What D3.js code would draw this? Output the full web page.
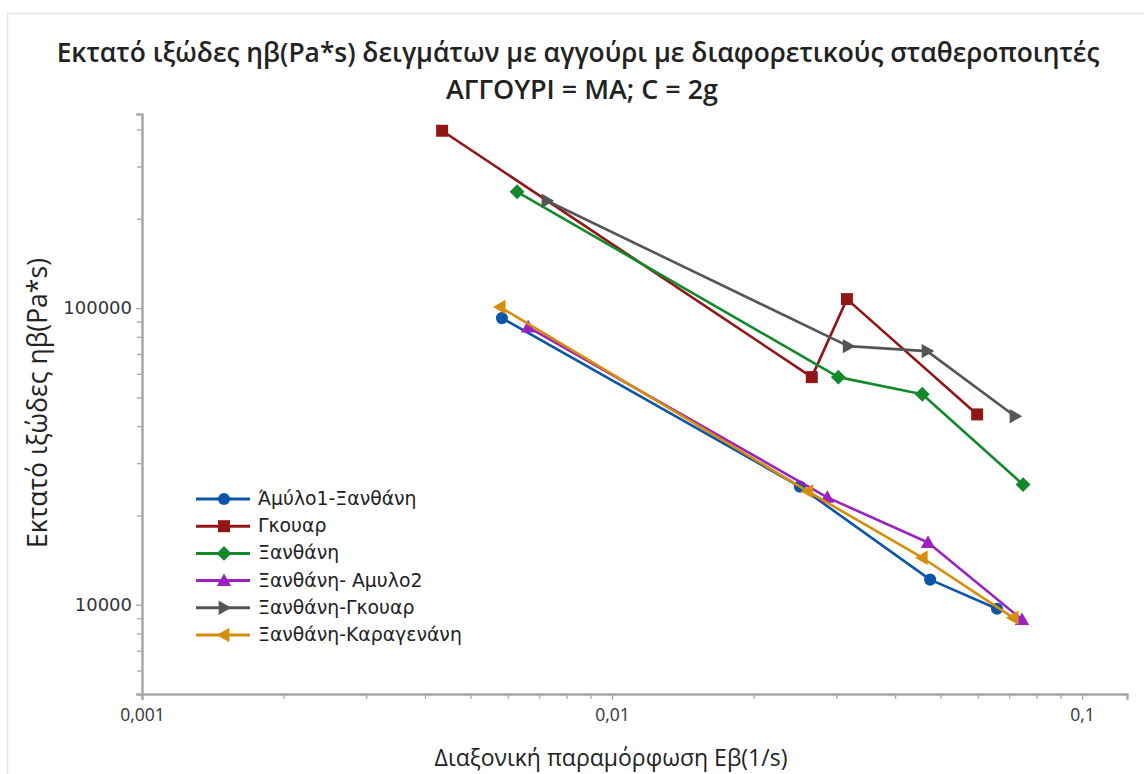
<!DOCTYPE html>
<html>
<head>
<meta charset="utf-8">
<script src="https://cdn.jsdelivr.net/npm/d3@7"></script>
<style>
  html, body { margin: 0; padding: 0; background: #fff; }
  svg { display: block; }
</style>
</head>
<body>
<svg id="chart" width="1144" height="774"></svg>
<script>
// ---- Data ----
const seriesNames = ["Άμύλο1-Ξανθάνη", "Γκουαρ", "Ξανθάνη", "Ξανθάνη- Αμυλο2", "Ξανθάνη-Γκουαρ", "Ξανθάνη-Καραγενάνη"];
const amylo1X   = [0.00583, 0.0251, 0.0475, 0.0659];
const amylo1Y   = [92500, 25000, 12150, 9690];
const gkouarX   = [0.00435, 0.0266, 0.0316, 0.0598];
const gkouarY   = [396000, 58500, 107200, 43800];
const xanthX    = [0.00628, 0.0303, 0.0457, 0.0749];
const xanthY    = [246600, 58500, 51200, 25400];
const xamylo2X  = [0.00663, 0.0287, 0.0470, 0.0745];
const xamylo2Y  = [86300, 23000, 16200, 8900];
const xgkouarX  = [0.00727, 0.0318, 0.0468, 0.0720];
const xgkouarY  = [230000, 74400, 71600, 43200];
const xkaragX   = [0.00578, 0.0261, 0.0457, 0.0713];
const xkaragY   = [100800, 24100, 14400, 9040];
const xTickValues = [0.001, 0.01, 0.1];
const xTickLabels = ["0,001", "0,01", "0,1"];
const yTickValues = [10000, 100000];
const yTickLabels = ["10000", "100000"];
const titleLine1 = "Εκτατό ιξώδες ηβ(Pa*s) δειγμάτων με αγγούρι με διαφορετικούς σταθεροποιητές";
const titleLine2 = "ΑΓΓΟΥΡΙ = ΜΑ; C = 2g";
const xLabel = "Διαξονική παραμόρφωση Εβ(1/s)";
const yLabel = "Εκτατό ιξώδες ηβ(Pa*s)";

const colors = ["#0a56a8", "#921616", "#12892a", "#9b22c0", "#555555", "#d68d0a"];
const symbols = ["circle", "square", "diamond", "triUp", "triRight", "triLeft"];

const seriesX = [amylo1X, gkouarX, xanthX, xamylo2X, xgkouarX, xkaragX];
const seriesY = [amylo1Y, gkouarY, xanthY, xamylo2Y, xgkouarY, xkaragY];
const series = seriesNames.map((name, i) => ({
  name, color: colors[i], symbol: symbols[i],
  points: seriesX[i].map((x, j) => ({x, y: seriesY[i][j]}))
}));

// ---- Layout ----
const svg = d3.select("#chart");
const pLeft = 142, pRight = 1127, pTop = 114, pBottom = 694;
const xScale = d3.scaleLog().domain([0.001, 0.1246]).range([pLeft, pRight]);
const yScale = d3.scaleLog().domain([5000, 451000]).range([pBottom, pTop]);

// outer frame
svg.append("rect").attr("x", 7.5).attr("y", 13.5).attr("width", 1150).attr("height", 800)
  .attr("fill", "none").attr("stroke", "#e3e3e3").attr("stroke-width", 1.5);

function fit(sel, target) {
  const w = sel.node().getComputedTextLength();
  const fs = parseFloat(sel.attr("font-size"));
  const nfs = fs * target / w;
  sel.attr("font-size", nfs.toFixed(2));
  return nfs;
}

// ---- Axes ----
const axisColor = "#a8a8a8";
const xMinor = [];
for (let d = 0.001; d < 0.2; d *= 10) for (let k = 2; k <= 9; k++) { const v = +(d * k).toPrecision(3); if (v <= 0.1246) xMinor.push(v); }
const yMinor = [];
for (let d = 1000; d < 1e6; d *= 10) for (let k = 2; k <= 9; k++) { const v = d * k; if (v >= 5000 && v <= 451000) yMinor.push(v); }

const xAxisMinor = d3.axisBottom(xScale).tickValues(xMinor).tickSize(5).tickFormat("");
const xAxisMajor = d3.axisBottom(xScale).tickValues(xTickValues).tickSize(6).tickPadding(9)
  .tickFormat((d, i) => xTickLabels[i]);
const yAxisMinor = d3.axisLeft(yScale).tickValues(yMinor).tickSize(5).tickFormat("");
const yAxisMajor = d3.axisLeft(yScale).tickValues(yTickValues).tickSize(6).tickPadding(4)
  .tickFormat((d, i) => yTickLabels[i]);

function styleAxis(g) {
  g.select(".domain").attr("stroke", axisColor).attr("stroke-width", 2);
  g.selectAll(".tick line").attr("stroke", axisColor).attr("stroke-width", 1.3);
}
svg.append("g").attr("transform", `translate(0,${pBottom})`).call(xAxisMinor).call(styleAxis);
const gx = svg.append("g").attr("transform", `translate(0,${pBottom})`).call(xAxisMajor).call(styleAxis);
gx.selectAll(".tick text").attr("font-family", "'Open Sans', sans-serif").attr("font-size", 17.5).attr("fill", "#333");
svg.append("g").attr("transform", `translate(${pLeft},0)`).call(yAxisMinor).call(styleAxis);
const gy = svg.append("g").attr("transform", `translate(${pLeft},0)`).call(yAxisMajor).call(styleAxis);
gy.selectAll(".tick text").attr("font-family", "'DejaVu Sans', sans-serif").attr("font-size", 18).attr("fill", "#333");

// ---- Titles ----
const t1 = svg.append("text").attr("x", 578).attr("y", 62).attr("text-anchor", "middle")
  .attr("font-family", "'Open Sans', sans-serif").attr("font-weight", 600).attr("font-size", 20)
  .attr("fill", "#222").text(titleLine1);
fit(t1, 1043);
const t2 = svg.append("text").attr("x", 582).attr("y", 99).attr("text-anchor", "middle")
  .attr("font-family", "'Open Sans', sans-serif").attr("font-weight", 600).attr("font-size", 20)
  .attr("fill", "#222").text(titleLine2);
fit(t2, 272);
const xl = svg.append("text").attr("x", 611).attr("y", 766).attr("text-anchor", "middle")
  .attr("font-family", "'Open Sans', sans-serif").attr("font-size", 20)
  .attr("fill", "#222").text(xLabel);
fit(xl, 353);
const yl = svg.append("text").attr("transform", "translate(47,403) rotate(-90)").attr("text-anchor", "middle")
  .attr("font-family", "'Open Sans', sans-serif").attr("font-size", 20)
  .attr("fill", "#222").text(yLabel);
fit(yl, 290);

// ---- Symbols ----
function symbolPath(type, s) {
  switch (type) {
    case "circle": return d3.symbol(d3.symbolCircle, s * s * 0.8)();
    case "square": return d3.symbol(d3.symbolSquare, s * s)();
    case "diamond": { const r = s * 0.62; return `M0,${-r}L${r},0L0,${r}L${-r},0Z`; }
    case "triUp": { const r = s * 0.6; return `M0,${-r}L${r},${r * 0.75}L${-r},${r * 0.75}Z`; }
    case "triRight": { const r = s * 0.6; return `M${r},0L${-r * 0.75},${-r}L${-r * 0.75},${r}Z`; }
    case "triLeft": { const r = s * 0.6; return `M${-r},0L${r * 0.75},${-r}L${r * 0.75},${r}Z`; }
  }
}

const line = d3.line().x(d => xScale(d.x)).y(d => yScale(d.y));
series.forEach(s => {
  const g = svg.append("g");
  g.append("path").attr("d", line(s.points)).attr("fill", "none")
    .attr("stroke", s.color).attr("stroke-width", 2.6).attr("stroke-linejoin", "round");
  g.selectAll("path.m").data(s.points).join("path").attr("class", "m")
    .attr("d", symbolPath(s.symbol, 12))
    .attr("transform", d => `translate(${xScale(d.x)},${yScale(d.y)})`)
    .attr("fill", s.color);
});

// ---- Legend ----
const legend = svg.append("g");
const legendTexts = [];
series.forEach((s, i) => {
  const cy = 499 + i * 27.2;
  const g = legend.append("g").attr("transform", `translate(0,${cy})`);
  g.append("line").attr("x1", 196).attr("x2", 250).attr("y1", 0).attr("y2", 0)
    .attr("stroke", s.color).attr("stroke-width", 3);
  g.append("path").attr("d", symbolPath(s.symbol, 12)).attr("transform", "translate(224,0)").attr("fill", s.color);
  legendTexts.push(g.append("text").attr("x", 258).attr("y", 6)
    .attr("font-family", "'DejaVu Sans', sans-serif").attr("font-size", 15).attr("fill", "#222").text(s.name));
});
const lfs = fit(legendTexts[5], 204);
legendTexts.forEach(t => t.attr("font-size", lfs.toFixed(2)));
</script>
</body>
</html>
